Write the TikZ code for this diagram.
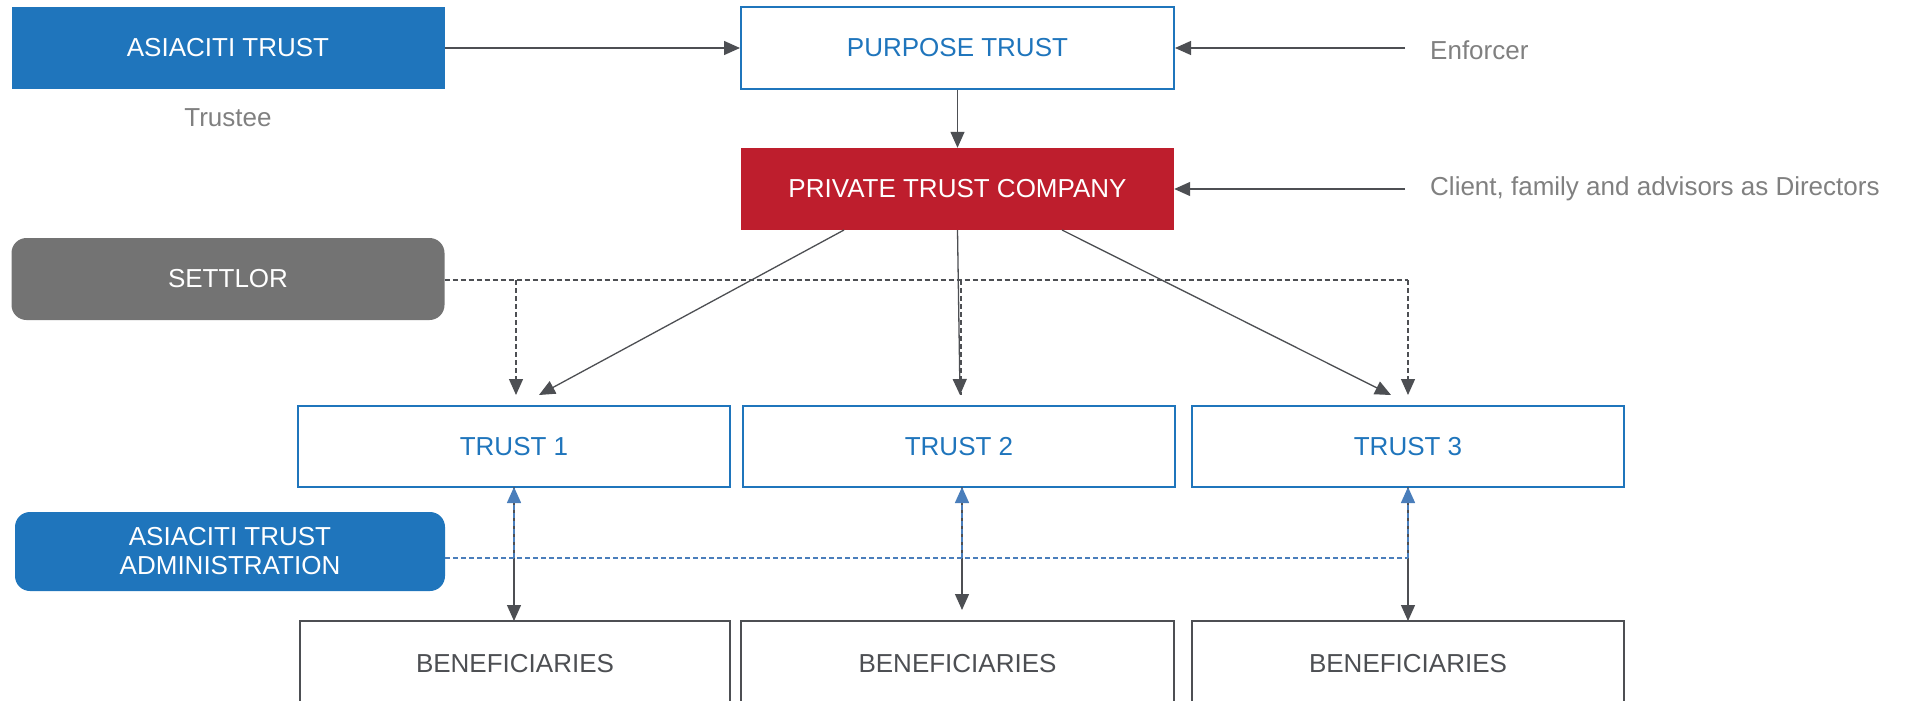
\documentclass[tikz,border=0pt]{standalone}
\usepackage{fontspec}
\setmainfont{Liberation Sans}
\usetikzlibrary{arrows.meta}
\definecolor{ablue}{HTML}{1F75BC}
\definecolor{ared}{HTML}{BE1E2D}
\definecolor{agray}{HTML}{737373}
\definecolor{lgray}{HTML}{4D4F53}
\definecolor{tgray}{HTML}{808080}
\definecolor{arrblue}{HTML}{4A7EBB}
\begin{document}
\begin{tikzpicture}[x=1pt,y=-1pt,
  every node/.style={font=\fontsize{26}{31}\selectfont, inner sep=0pt},
  boxbase/.style={rectangle, minimum width=433pt, minimum height=82pt, align=center},
  filledbox/.style={boxbase, fill=#1, text=white},
  roundbox/.style={boxbase, fill=#1, text=white, rounded corners=15pt},
  outlinebox/.style={boxbase, draw=ablue, line width=2pt, text=ablue, fill=white},
  benbox/.style={boxbase, draw=lgray, line width=2pt, text=lgray, fill=white},
  lbl/.style={text=tgray},
  conn/.style={draw=lgray, line width=1.3pt, -{Triangle[length=16pt,width=14pt]}},
  conndash/.style={draw=lgray, line width=1.3pt, dash pattern=on 5pt off 3pt},
  admdash/.style={draw=arrblue, line width=1.5pt, dash pattern=on 5pt off 3pt},
  bluetip/.style={-{Triangle[length=16pt,width=14pt,fill=arrblue]}, draw=arrblue}
]
\useasboundingbox (0,0) rectangle (1908,701);

% boxes
\node[filledbox=ablue] (asia) at (228,48) {ASIACITI TRUST};
\node[lbl] (trustee) at (228,118) {Trustee};
\node[outlinebox] (purpose) at (957.5,48) {PURPOSE TRUST};
\node[lbl, anchor=west] (enforcer) at (1430,50) {Enforcer};
\node[filledbox=ared] (ptc) at (957.5,189) {PRIVATE TRUST COMPANY};
\node[lbl, anchor=west] (client) at (1430,189) {Client, family and advisors as Directors};
\node[roundbox=agray] (settlor) at (228,279) {SETTLOR};

\node[outlinebox, minimum width=432pt, minimum height=81pt] (trust1) at (514,446.5) {TRUST 1};
\node[outlinebox, minimum width=432pt, minimum height=81pt] (trust2) at (959,446.5) {TRUST 2};
\node[outlinebox, minimum width=432pt, minimum height=81pt] (trust3) at (1408,446.5) {TRUST 3};

\node[roundbox=ablue, minimum width=430pt, minimum height=79pt] (admin) at (230,551.5) {ASIACITI TRUST\\[-2pt]ADMINISTRATION};

\node[benbox, minimum width=430pt, minimum height=100pt] (ben1) at (515,671) {};
\node[benbox, minimum height=100pt] (ben2) at (957.5,671) {};
\node[benbox, minimum width=432pt, minimum height=100pt] (ben3) at (1408,671) {};
\node[text=lgray] (bt1) at (515,664) {BENEFICIARIES};
\node[text=lgray] (bt2) at (957.5,664) {BENEFICIARIES};
\node[text=lgray] (bt3) at (1408,664) {BENEFICIARIES};

% coordinates
\coordinate (enf) at (1405,48);
\coordinate (cli) at (1405,189);
\coordinate (t1in) at (539,395);
\coordinate (t2in) at (960,395);
\coordinate (t3in) at (1391,395);
\coordinate (p1) at (844,230);
\coordinate (p3) at (1062,230);
\coordinate (s1) at (516,280);
\coordinate (s2) at (961,280);
\coordinate (s3) at (1408,280);
\coordinate (s1b) at (516,395);
\coordinate (s2b) at (961,395);
\coordinate (s3b) at (1408,395);
\coordinate (a0) at (445,558);
\coordinate (a1) at (514,558);
\coordinate (a2) at (962,558);
\coordinate (a3) at (1408,558);
\coordinate (u1) at (514,487);
\coordinate (u2) at (962,487);
\coordinate (u3) at (1408,487);
\coordinate (d1) at (514,621);
\coordinate (d2) at (962,610);
\coordinate (d3) at (1408,621);

% top connectors
\draw[conn] (asia.east) -- (purpose.west);
\draw[conn] (enf) -- (purpose.east);
\draw[conn] (purpose.south) -- (ptc.north);
\draw[conn] (cli) -- (ptc.east);

% settlor dashed
\draw[conndash] (settlor.east |- s1) -- (s3);
\draw[conndash, -{Triangle[length=16pt,width=14pt]}] (s1) -- (s1b);
\draw[conndash] (s2) -- (s2b);
\draw[conndash, -{Triangle[length=16pt,width=14pt]}] (s3) -- (s3b);

% PTC to trusts
\draw[conn] (p1) -- (t1in);
\draw[conn] (ptc.south) -- (t2in);
\draw[conn] (p3) -- (t3in);

% trusts to beneficiaries
\draw[conn] (u1) -- (d1);
\draw[conn] (u2) -- (d2);
\draw[conn] (u3) -- (d3);

% administration dashed
\draw[admdash] (admin.east |- a0) -- (a3);
\draw[admdash, bluetip] (a1) -- (u1);
\draw[admdash, bluetip] (a2) -- (u2);
\draw[admdash, bluetip] (a3) -- (u3);
\end{tikzpicture}
\end{document}
